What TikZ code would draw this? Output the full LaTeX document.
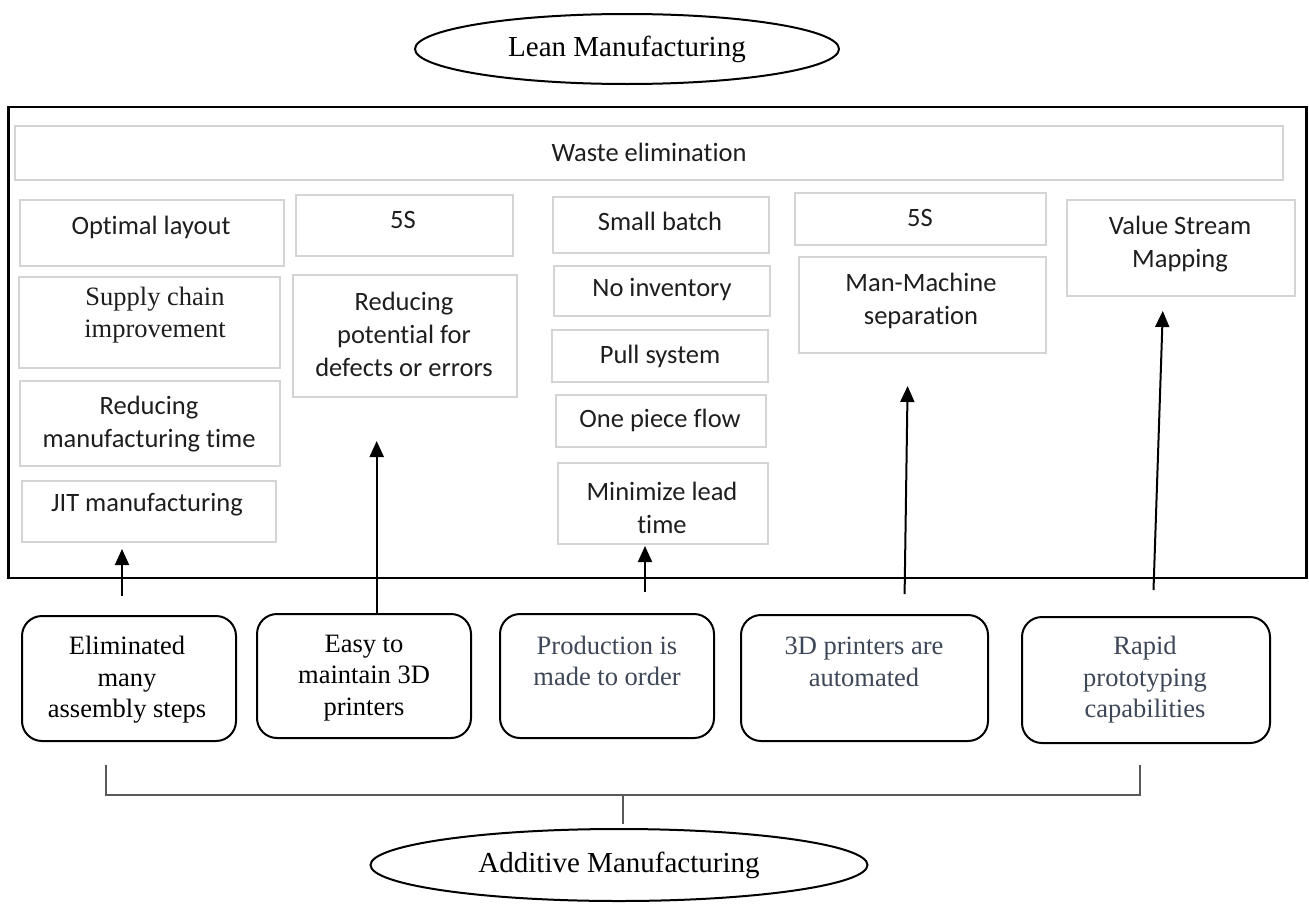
\documentclass[tikz,border=0pt]{standalone}
\usepackage{fontspec}
\setmainfont{Liberation Serif}
\newfontfamily\tilefont[Ligatures=NoCommon,RawFeature={-liga;-clig}]{Carlito}
\usetikzlibrary{shapes.geometric,arrows.meta,fit}
\definecolor{tileline}{HTML}{D4D4D4}
\definecolor{slate}{HTML}{3E4757}
\definecolor{tiletxt}{HTML}{1E1E1E}

\begin{document}
\begin{tikzpicture}[x=1pt,y=-1pt,
  frame/.style={draw=black, line width=2.2pt, inner sep=0pt},
  tile/.style={draw=tileline, line width=2pt, inner sep=0pt},
  tiletext/.style={font=\tilefont\fontsize{26.5}{33}\selectfont, align=center, text=tiletxt, inner sep=0pt},
  serifnote/.style={font=\fontsize{26.5}{32}\selectfont, align=center, text=tiletxt, inner sep=0pt},
  feature/.style={draw=black, line width=2pt, rounded corners=20pt, inner sep=0pt},
  featuretext/.style={font=\fontsize{26.5}{31.5}\selectfont, align=center, inner sep=0pt},
  hub/.style={ellipse, draw=black, line width=2pt, inner sep=0pt, font=\fontsize{29}{34}\selectfont},
  uparrow/.style={draw=black, line width=2pt, -{Triangle[length=16pt,width=14pt]}},
  bracket/.style={draw=black!65, line width=2pt}
]
\useasboundingbox (0,0) rectangle (1309,905);

% Lean manufacturing header
\node[hub, minimum width=424pt, minimum height=70pt] (lean) at (627,49) {Lean Manufacturing};

% outer frame holding the lean principles
\node[frame, fit={(8.4,107) (1306.5,578)}] (frame) {};

% lean principle tiles
\node[tile, fit={(14.7,126) (1283.4,180)}] (waste) {};
\node[tiletext] (waste-t) at (649,152) {Waste elimination};

\node[tile, fit={(20,200) (284,266)}] (layout) {};
\node[tiletext] (layout-t) at (151,227) {Optimal layout};
\node[tile, fit={(19,277) (280,368)}] (supply) {};
\node[serifnote] (supply-t) at (155,315) {Supply chain\\improvement};
\node[tile, fit={(20,381) (280,466)}] (mtime) {};
\node[tiletext] (mtime-t) at (149,424) {Reducing\\manufacturing time};
\node[tile, fit={(22,481) (276,542)}] (jit) {};
\node[tiletext] (jit-t) at (147,505) {JIT manufacturing};

\node[tile, fit={(295.5,195) (512.7,256)}] (fives1) {};
\node[tiletext] (fives1-t) at (403,220) {5S};
\node[tile, fit={(293,275) (517,397)}] (defects) {};
\node[tiletext] (defects-t) at (404,334) {Reducing\\potential for\\defects or errors};

\node[tile, fit={(553,197) (769,253)}] (batch) {};
\node[tiletext] (batch-t) at (660,221) {Small batch};
\node[tile, fit={(554,266) (770,316)}] (noinv) {};
\node[tiletext] (noinv-t) at (662,290) {No inventory};
\node[tile, fit={(552,330) (768,382)}] (pull) {};
\node[tiletext] (pull-t) at (660,356) {Pull system};
\node[tile, fit={(555.6,395) (765.6,447)}] (onepiece) {};
\node[tiletext] (onepiece-t) at (660,420) {One piece flow};
\node[tile, fit={(557.7,463) (767.8,544)}] (lead) {};
\node[tiletext] (lead-t) at (662,508) {Minimize lead\\time};

\node[tile, fit={(795,193) (1046,245)}] (fives2) {};
\node[tiletext] (fives2-t) at (920,218) {5S};
\node[tile, fit={(799,257) (1046,353)}] (manmach) {};
\node[tiletext] (manmach-t) at (921,301) {Man-Machine\\separation};

\node[tile, fit={(1067,200) (1295,296)}] (vsm) {};
\node[tiletext] (vsm-t) at (1180,244) {Value Stream\\Mapping};

% additive manufacturing features
\node[feature, fit={(22,616) (236,741)}] (steps) {};
\node[featuretext] (steps-t) at (127,680) {Eliminated\\many\\assembly steps};
\node[feature, fit={(257,614) (471,738)}] (maint) {};
\node[featuretext] (maint-t) at (364,678) {Easy to\\maintain 3D\\printers};
\node[feature, fit={(500,614) (714,738)}] (order) {};
\node[featuretext, text=slate] (order-t) at (607,661) {Production is\\made to order};
\node[feature, fit={(741,615) (988,741)}] (auto) {};
\node[featuretext, text=slate] (auto-t) at (864,662) {3D printers are\\automated};
\node[feature, fit={(1022,617) (1270,743)}] (rapid) {};
\node[featuretext, text=slate] (rapid-t) at (1145,680) {Rapid\\prototyping\\capabilities};

% Additive manufacturing footer
\node[hub, minimum width=497pt, minimum height=72pt] (additive) at (619,865) {Additive Manufacturing};

% arrows from features up into the lean principles
\coordinate (s1) at (122,596);  \coordinate (e1) at (122,549);
\coordinate (e2) at (376.7,441);
\coordinate (s3) at (645,592);  \coordinate (e3) at (645,546);
\coordinate (s4) at (904.6,594); \coordinate (e4) at (907.6,386);
\coordinate (s5) at (1153.5,590); \coordinate (e5) at (1162.8,311);
\draw[uparrow] (s1) -- (e1);
\draw[uparrow] (maint.north -| e2) -- (e2);
\draw[uparrow] (s3) -- (e3);
\draw[uparrow] (s4) -- (e4);
\draw[uparrow] (s5) -- (e5);

% bracket gathering the features
\coordinate (bl) at (106,765);
\coordinate (br) at (1139.6,765);
\coordinate (stem) at (623,795);
\draw[bracket] (bl) -- (bl |- stem) -- (br |- stem) -- (br);
\draw[bracket, shorten >=4pt] (stem) -- (stem |- additive.north);
\end{tikzpicture}
\end{document}
